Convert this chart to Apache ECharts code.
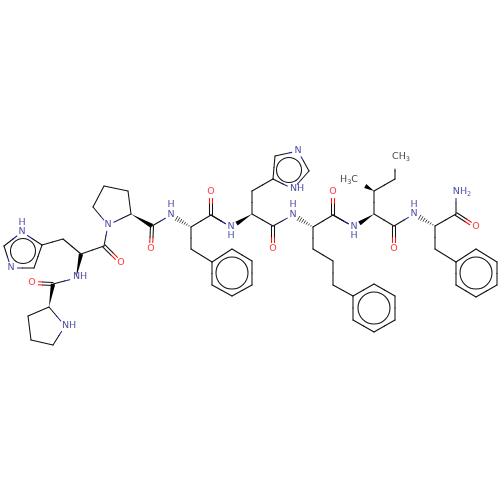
<!DOCTYPE html>
<html><head><meta charset="utf-8">
<style>html,body{margin:0;padding:0;background:#fff}#c{width:500px;height:500px}</style>
<script src="https://cdn.jsdelivr.net/npm/echarts@6/dist/echarts.min.js"></script>
</head><body><div id="c"></div>
<script>
// atoms: element ('C' is unlabelled carbon, 'M' a methyl label)
const atomX=[53,31,28,49,65,53,32,76,81,63,42,22,4,11,34,104,121,108,93,104,128,131,152,151,171,191,211,211,191,212,232,252,252,232,212,231,252,252,273,275,298,309,293,273,273,293,313,333,333,313,333,333,353,374,395,395,374,353,354,374,374,360,395,395,394,394,414,435,456,476,456,435,456,476,497,497,476,456];
const atomY=[345,340,316,307,326,284,283,278,254,239,245,232,246,268,268,246,263,225,207,186,191,214,226,249,215,227,215,192,249,262,249,261,285,296,285,227,214,191,179,156,151,171,189,226,249,215,227,215,192,249,261,285,296,284,296,320,332,320,227,214,191,183,179,163,226,249,214,226,214,227,192,249,262,249,262,285,297,285];
const atomEl=['C','C','C','C','N','C','O','N','C','C','C','N','C','N','C','C','O','N','C','C','C','C','C','O','N','C','C','O','C','C','C','C','C','C','C','N','C','C','C','C','N','C','N','C','O','N','C','C','O','C','C','C','C','C','C','C','C','C','N','C','C','M','C','M','C','O','N','C','C','O','N','C','C','C','C','C','C','C'];
// bonds: 1 single, 2 double, 3 solid wedge, 4 hashed wedge
const bondFrom=[0,1,2,3,4,3,5,5,7,8,9,10,11,12,13,14,8,15,15,17,18,19,20,21,21,22,22,25,25,26,26,25,28,29,30,31,32,33,34,26,36,36,37,38,39,40,41,42,36,43,43,46,46,47,47,46,49,50,51,52,53,54,55,56,57,47,59,59,60,60,62,59,64,64,67,67,68,68,67,71,72,73,74,75,76,77];
const bondTo=  [1,2,3,4,0,5,6,7,8,9,10,11,12,13,14,10,15,16,17,18,19,20,21,17,22,23,24,24,26,27,35,28,29,30,31,32,33,34,29,35,35,37,38,39,40,41,42,38,43,44,45,45,47,48,58,49,50,51,52,53,54,55,56,57,52,58,58,60,61,62,63,64,65,66,66,68,69,70,71,72,73,74,75,76,77,72];
const bondKind=[1,1,1,1,1,3,2,1,3,1,1,1,1,1,1,1,1,2,1,1,1,1,1,1,3,2,1,4,1,2,1,1,1,1,1,1,1,1,1,1,3,1,1,1,1,1,1,1,1,2,1,4,1,2,1,1,1,1,1,1,1,1,1,1,1,1,3,1,3,1,1,1,2,1,4,1,2,1,1,1,1,1,1,1,1,1];
// aromatic ring circles: centre and radius in chart units
const ringX=[23,232,289,374,476];
const ringY=[251,273,170,308,273];
const ringR=[12.5,16,12.5,16,16];
// text labels
const labelText=['NH','O','NH','N','H','N','O','N','O','N','H','O','N','H','N','NH','O','N','H','O','N','H','{b|CH}{s|3}','{b|H}{s|3}{b|C}','O','N','H','O','{b|NH}{s|2}'];
const labelX=[69,32,80,22,22,11,121,108,151,171,171,211,231,231,298,297,273,293,293,333,354,354,401,349,394,414,414,476,462];
const labelY=[326,283,277,232,223,268,263,225,249,215,205,192,227,236,151,189,249,215,205,192,227,236,157,180,249,214,205,227,192];

const BLACK='#111', BLUE='#20208e', RED='#ff0d0d';
const colorOf={C:BLACK,N:BLUE,O:RED,M:BLACK};
const trimOf={C:0,N:6.5,O:6.5,M:6};
const bonds=bondFrom.map((f,i)=>[f,bondTo[i],bondKind[i]]);

function renderBond(params,api){
  const a=api.value(0),b=api.value(1),k=api.value(2);
  const p=api.coord([atomX[a],atomY[a]]),q=api.coord([atomX[b],atomY[b]]);
  const dx=q[0]-p[0],dy=q[1]-p[1],L=Math.hypot(dx,dy),ux=dx/L,uy=dy/L,nx=-uy,ny=ux;
  const ea=atomEl[a],eb=atomEl[b],ta=trimOf[ea],tb=trimOf[eb];
  const s=[p[0]+ux*ta,p[1]+uy*ta],e=[q[0]-ux*tb,q[1]-uy*tb],m=[(p[0]+q[0])/2,(p[1]+q[1])/2];
  const kids=[];
  const line=(A,B,c,w)=>kids.push({type:'line',shape:{x1:A[0],y1:A[1],x2:B[0],y2:B[1]},style:{stroke:c,lineWidth:w||1.05,lineCap:'round'}});
  if(k===1||k===2){
    const off=k===2?[-1.5,1.5]:[0];
    off.forEach(o=>{
      const sh=(P)=>[P[0]+nx*o,P[1]+ny*o];
      line(sh(s),sh(m),colorOf[ea]);line(sh(m),sh(e),colorOf[eb]);
    });
  }else if(k===3){
    kids.push({type:'polygon',shape:{points:[[p[0],p[1]],[e[0]+nx*2.2,e[1]+ny*2.2],[e[0]-nx*2.2,e[1]-ny*2.2]]},style:{fill:'#000'}});
  }else if(k===4){
    const n=7,len=Math.hypot(e[0]-p[0],e[1]-p[1]);
    for(let i=1;i<=n;i++){
      const t=i/n,c=[p[0]+ux*len*t,p[1]+uy*len*t],h=2.4*t;
      line([c[0]+nx*h,c[1]+ny*h],[c[0]-nx*h,c[1]-ny*h],'#111',0.8);
    }
  }
  return {type:'group',children:kids};
}
function renderRing(params,api){
  const c=api.coord([api.value(0),api.value(1)]),r=api.size([api.value(2),0])[0];
  return {type:'circle',shape:{cx:c[0],cy:c[1],r:r},style:{fill:'none',stroke:BLACK,lineWidth:1.05}};
}
const FONT='DejaVu Sans';
const labelData=labelText.map((t,i)=>{
  const col=(t==='O')?RED:(t.indexOf('C')>=0)?BLACK:BLUE;
  return {value:[labelX[i],labelY[i]],label:{show:true,position:'inside',formatter:t,color:col,fontSize:9.5,fontFamily:FONT,
    rich:{b:{color:col,fontSize:9.5,fontFamily:FONT,lineHeight:11},
          s:{color:col,fontSize:6.5,fontFamily:FONT,lineHeight:11,verticalAlign:'bottom',padding:[5,0,0,0]}}}};
});

const chart=echarts.init(document.getElementById('c'),null,{renderer:'canvas'});
chart.setOption({
  animation:false,backgroundColor:'#fff',
  grid:{left:0,right:0,top:0,bottom:0},
  xAxis:{type:'value',min:0,max:500,show:false},
  yAxis:{type:'value',min:0,max:500,inverse:true,show:false},
  series:[
    {type:'custom',coordinateSystem:'cartesian2d',renderItem:renderBond,data:bonds,silent:true,clip:false},
    {type:'custom',coordinateSystem:'cartesian2d',renderItem:renderRing,data:ringX.map((x,i)=>[x,ringY[i],ringR[i]]),silent:true,clip:false},
    {type:'scatter',symbolSize:0,data:labelData,silent:true,clip:false}
  ]
});
</script></body></html>
